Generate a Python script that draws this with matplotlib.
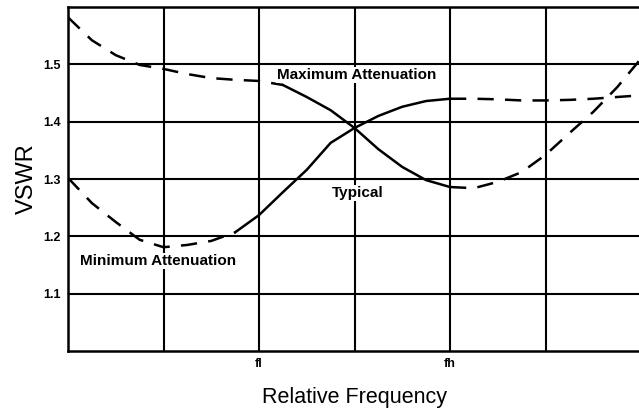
import matplotlib
matplotlib.use("Agg")
import matplotlib.pyplot as plt

plt.rcParams['font.family'] = ['Liberation Sans', 'DejaVu Sans']

# relative frequency positions (fl = 2, fh = 4)
freq = [0, 0.25, 0.5, 0.75, 1.0, 1.25, 1.5, 1.75, 2.0, 2.25, 2.5, 2.75, 3.0,
        3.25, 3.5, 3.75, 4.0, 4.25, 4.5, 4.75, 5.0, 5.25, 5.5, 5.75, 6.0]

max_att = [1.582, 1.542, 1.516, 1.499, 1.492, 1.483, 1.476, 1.473, 1.471,
           1.464, 1.443, 1.420, 1.389, 1.352, 1.321, 1.298, 1.286, 1.284,
           1.295, 1.312, 1.342, 1.380, 1.417, 1.460, 1.510]

min_att = [1.302, 1.258, 1.225, 1.194, 1.181, 1.185, 1.192, 1.207, 1.237,
           1.277, 1.316, 1.363, 1.389, 1.410, 1.426, 1.436, 1.440, 1.440,
           1.439, 1.437, 1.437, 1.438, 1.440, 1.443, 1.446]

# indices where the "typical" solid part starts / ends
max_solid = (9, 16)
min_solid = (7, 16)

y_ticks = [1.1, 1.2, 1.3, 1.4, 1.5]
x_ticks = [1, 2, 3, 4, 5]
x_labels = ['', 'fl', '', 'fh', '']

fig = plt.figure(figsize=(6.39, 4.17), dpi=100)
ax = fig.add_axes([68 / 639, 1 - 351 / 417, 573 / 639, 344 / 417])

ax.set_xlim(0, 6)
ax.set_ylim(1.0, 1.6)
ax.set_xticks(x_ticks)
ax.set_xticklabels(x_labels, fontsize=9, fontweight='bold')
ax.set_yticks(y_ticks)
ax.set_yticklabels([f"{v:.1f}" for v in y_ticks], fontsize=9, fontweight='bold')
ax.tick_params(length=0, pad=5)
ax.grid(True, color='black', linewidth=1.5)
ax.set_axisbelow(True)
for s in ax.spines.values():
    s.set_linewidth(1.8)

dash = (0, (6.5, 4.5))
for ys, (a, b) in ((max_att, max_solid), (min_att, min_solid)):
    ax.plot(freq[:a + 1], ys[:a + 1], color='black', lw=1.8, linestyle=dash)
    ax.plot(freq[a:b + 1], ys[a:b + 1], color='black', lw=1.8)
    ax.plot(freq[b:], ys[b:], color='black', lw=1.8, linestyle=dash)

box = dict(facecolor='white', edgecolor='none', pad=0.5)
ax.text(2.19, 1.481, 'Maximum Attenuation', fontsize=11, fontweight='bold',
        va='center', ha='left', bbox=box)
ax.text(0.126, 1.157, 'Minimum Attenuation', fontsize=11, fontweight='bold',
        va='center', ha='left', bbox=box)
ax.text(3.03, 1.276, 'Typical', fontsize=11, fontweight='bold',
        va='center', ha='center', bbox=box)

ax.set_ylabel('VSWR', fontsize=17, labelpad=4)
ax.set_xlabel('Relative Frequency', fontsize=15.5, labelpad=12)

fig.savefig('out.png', dpi=100)
